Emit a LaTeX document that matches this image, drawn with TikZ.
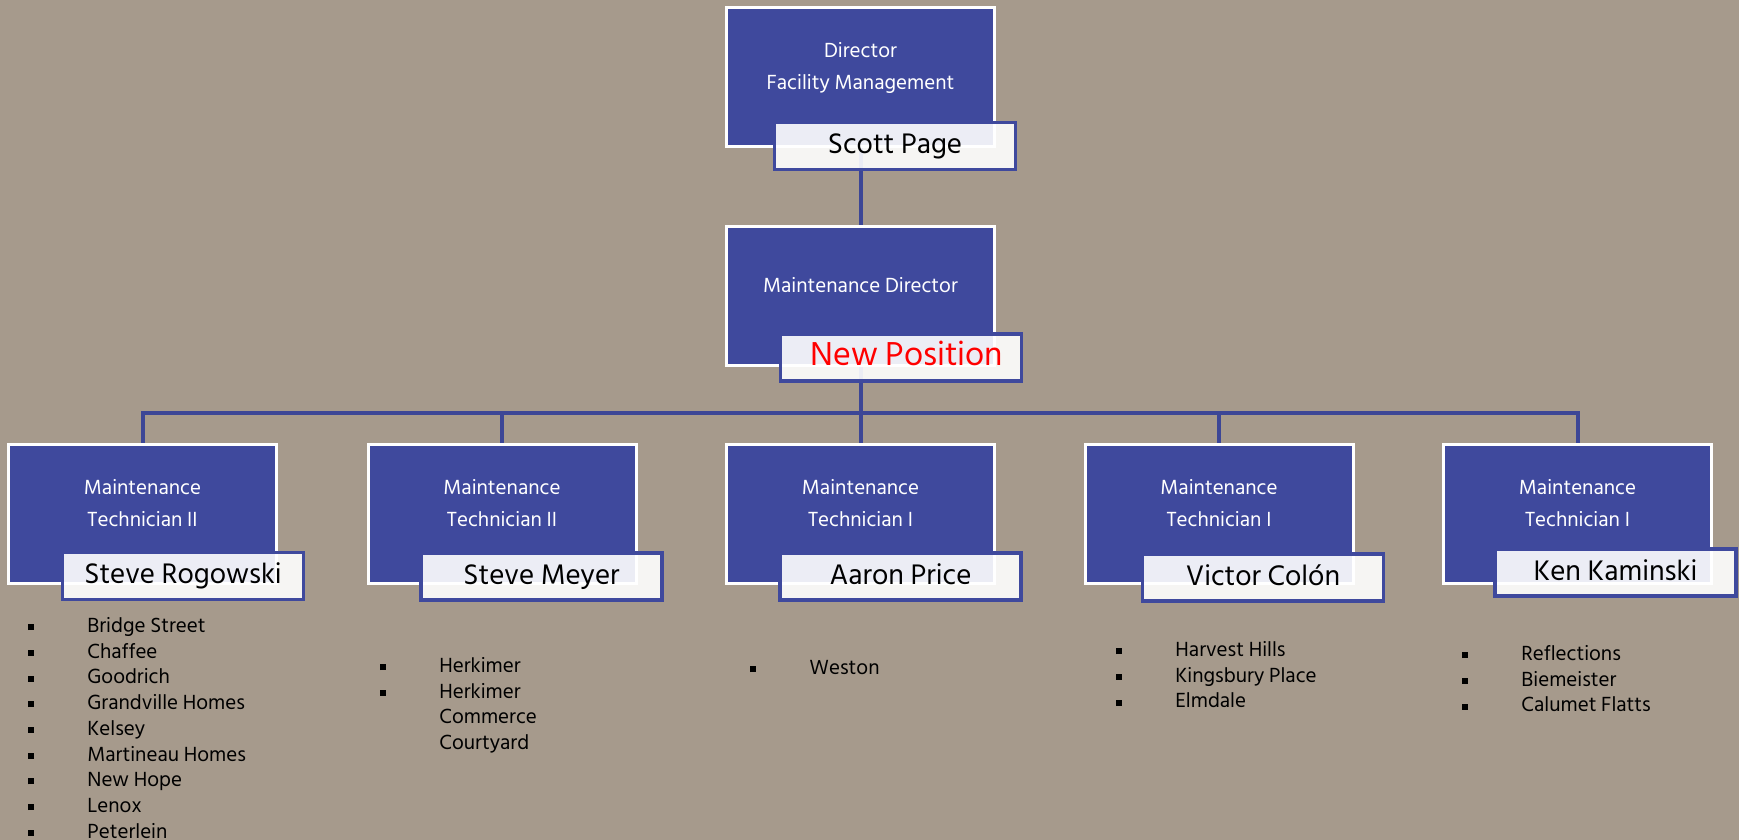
\documentclass[tikz,border=0pt]{standalone}
\usepackage{fontspec}
\setmainfont{Hind Siliguri}

\definecolor{bgtaupe}{RGB}{166,154,140}
\definecolor{boxblue}{RGB}{63,73,157}
\definecolor{linkblue}{RGB}{60,70,150}

\pgfdeclarelayer{bg}
\pgfdeclarelayer{links}
\pgfsetlayers{bg,links,main}

\tikzset{
    rolebox/.style={rectangle, fill=boxblue, draw=white, line width=1.5pt, minimum width=134pt, minimum height=69.5pt, inner sep=0pt},
    roletitle/.style={text=white, align=center, inner sep=0pt, text depth=0pt, font=\fontsize{10.5}{15.75}\selectfont},
    namebox/.style={rectangle, fill=white, fill opacity=0.9, text opacity=1, draw=boxblue, draw opacity=1, line width=1.75pt, minimum width=120.5pt, minimum height=23.5pt, inner sep=0pt, text height=10.6pt, text depth=3pt, font=\fontsize{14.5}{17}\selectfont},
    link/.style={draw=linkblue, line width=2pt},
    sitelist/.style={anchor=base west, inner sep=0pt, font=\fontsize{10.5}{12.85}\selectfont}
}
\newcommand{\sitebullet}{\rule[1.2pt]{3pt}{3pt}}
\newcommand{\sitetab}[1]{\begin{tabular}[t]{@{}l@{\hspace{26.5pt}}l@{}}#1\end{tabular}}

\begin{document}
\begin{tikzpicture}[x=0.5pt, y=-0.5pt]

        \useasboundingbox (0,0) rectangle (1739,840);
        \begin{pgfonlayer}{bg}
            \fill[bgtaupe] (0,0) rectangle (1739,840);
        \end{pgfonlayer}

        \node[rolebox] (dir) at (860.5,77) {};
        \node[roletitle] (dirtitle) at ([yshift=5.5pt]dir.center) {Director\\Facility Management};
        \node[namebox] (dirname) at (895,146) {Scott Page};

        \node[rolebox] (maint) at (860.5,296) {};
        \node[roletitle] (mainttitle) at ([yshift=5.5pt]maint.center) {Maintenance Director};
        \node[namebox, text=red, font=\fontsize{17}{20}\selectfont] (maintname) at (901,357.5) {\hspace{6pt}New Position};

        \node[rolebox] (tech1) at (142.5,514) {};
        \node[roletitle] (tech1title) at ([yshift=5.5pt]tech1.center) {Maintenance\\Technician II};
        \node[namebox] (tech1name) at (183,576) {Steve Rogowski};

        \node[rolebox] (tech2) at (502,514) {};
        \node[roletitle] (tech2title) at ([yshift=5.5pt]tech2.center) {Maintenance\\Technician II};
        \node[namebox] (tech2name) at (541.5,576.5) {Steve Meyer};

        \node[rolebox] (tech3) at (860.5,514) {};
        \node[roletitle] (tech3title) at ([yshift=5.5pt]tech3.center) {Maintenance\\Technician I};
        \node[namebox] (tech3name) at (900.5,576.5) {Aaron Price};

        \node[rolebox] (tech4) at (1219,514) {};
        \node[roletitle] (tech4title) at ([yshift=5.5pt]tech4.center) {Maintenance\\Technician I};
        \node[namebox] (tech4name) at (1263,577.5) {Victor Colón};

        \node[rolebox] (tech5) at (1577.5,514) {};
        \node[roletitle] (tech5title) at ([yshift=5.5pt]tech5.center) {Maintenance\\Technician I};
        \node[namebox] (tech5name) at (1615.5,572.5) {Ken Kaminski};

        \coordinate (bus) at (860.5,413);
        \begin{pgfonlayer}{links}
            \draw[link] (dir.south) -- (maint.north);
            \draw[link] (maint.south) -- (bus);
            \foreach \t in {tech1,tech2,tech3,tech4,tech5}
                \draw[link] (bus) -| (\t.north);
        \end{pgfonlayer}

        \node[sitelist] (sites1) at (28,632.5) {\sitetab{
            \sitebullet & Bridge Street\\
            \sitebullet & Chaffee\\
            \sitebullet & Goodrich\\
            \sitebullet & Grandville Homes\\
            \sitebullet & Kelsey\\
            \sitebullet & Martineau Homes\\
            \sitebullet & New Hope\\
            \sitebullet & Lenox\\
            \sitebullet & Peterlein}};
        \node[sitelist] (sites2) at (380,672.5) {\sitetab{
            \sitebullet & Herkimer\\
            \sitebullet & Herkimer\\
                        & Commerce\\
                        & Courtyard}};
        \node[sitelist] (sites3) at (750,674.5) {\sitetab{
            \sitebullet & Weston}};
        \node[sitelist] (sites4) at (1116,656.5) {\sitetab{
            \sitebullet & Harvest Hills\\
            \sitebullet & Kingsbury Place\\
            \sitebullet & Elmdale}};
        \node[sitelist] (sites5) at (1462,660.5) {\sitetab{
            \sitebullet & Reflections\\
            \sitebullet & Biemeister\\
            \sitebullet & Calumet Flatts}};
    \end{tikzpicture}
\end{document}
